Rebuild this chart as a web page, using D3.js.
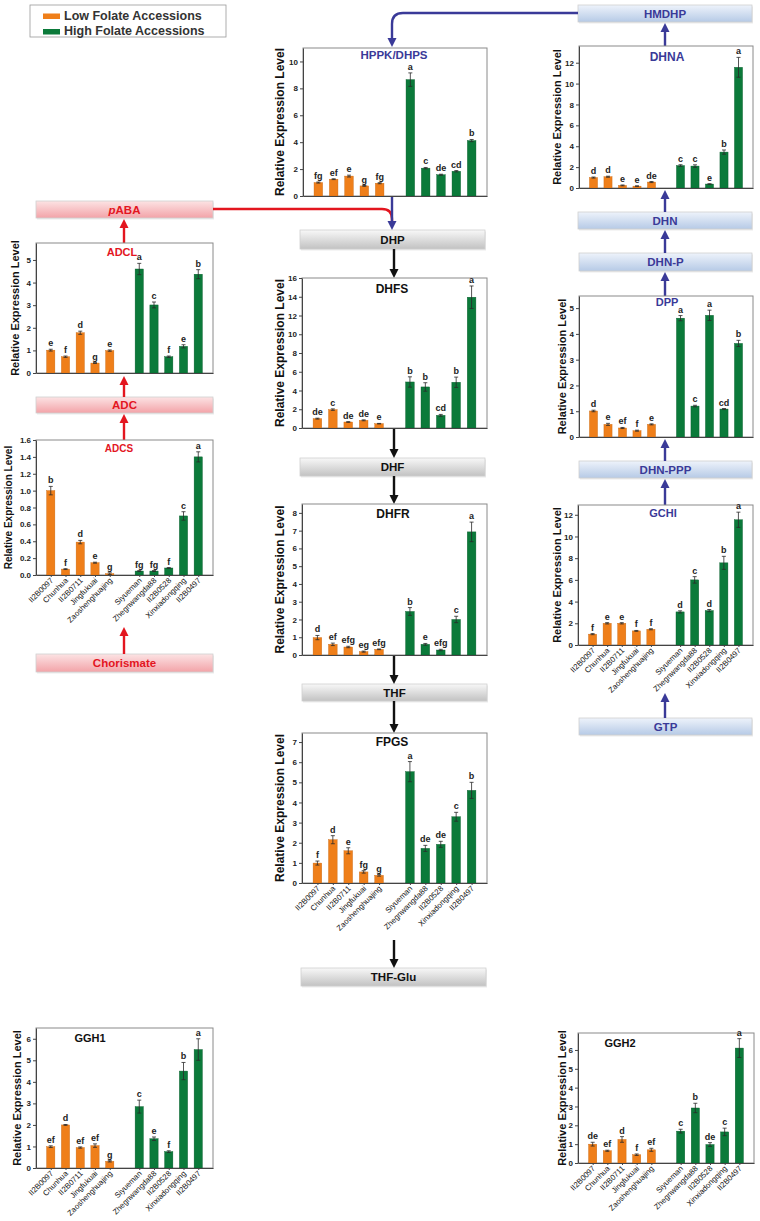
<!DOCTYPE html>
<html><head><meta charset="utf-8">
<script src="https://cdn.jsdelivr.net/npm/d3@7"></script>
<style>
body{margin:0;background:#fff}
svg{display:block}
text{font-family:"Liberation Sans",Arial,Helvetica,sans-serif}
</style>
</head><body>
<svg id="c" width="760" height="1221"></svg>
<script>
// ---------------- DATA ----------------
const categories = ["II2B0097","Chunhua","II2B0711","Jingfukuai","Zaoshenghuajing","Siyueman","Zhegnwangda88","II2B0528","Xinxiadongqing","II2B0497"];
const groupOf = ["Low","Low","Low","Low","Low","High","High","High","High","High"];
const legendLabels = ["Low Folate Accessions","High Folate Accessions"];

const hppkValues  = [1.0, 1.25, 1.48, 0.75, 0.95, 8.65, 2.07, 1.58, 1.84, 4.12];
const hppkErrors  = [0.04, 0.03, 0.07, 0.03, 0.04, 0.5, 0.05, 0.04, 0.05, 0.08];
const hppkLetters = ["fg","ef","e","g","fg","a","c","de","cd","b"];

const dhnaValues  = [1.0, 1.08, 0.25, 0.18, 0.57, 2.15, 2.1, 0.38, 3.44, 11.56];
const dhnaErrors  = [0.05, 0.05, 0.04, 0.03, 0.05, 0.08, 0.12, 0.03, 0.2, 0.95];
const dhnaLetters = ["d","d","e","e","de","c","c","e","b","a"];

const adclValues  = [1.01, 0.72, 1.78, 0.44, 0.99, 4.6, 3.01, 0.72, 1.18, 4.37];
const adclErrors  = [0.04, 0.03, 0.07, 0.02, 0.03, 0.25, 0.13, 0.03, 0.07, 0.2];
const adclLetters = ["e","f","d","g","e","a","c","f","e","b"];

const adcsValues  = [1.0, 0.07, 0.39, 0.146, 0.016, 0.047, 0.047, 0.083, 0.70, 1.40];
const adcsErrors  = [0.05, 0.005, 0.02, 0.006, 0.01, 0.005, 0.005, 0.005, 0.05, 0.06];
const adcsLetters = ["b","f","d","e","g","fg","fg","f","c","a"];

const dhfsValues  = [1.0, 1.96, 0.64, 0.82, 0.46, 4.91, 4.38, 1.35, 4.88, 13.95];
const dhfsErrors  = [0.05, 0.08, 0.04, 0.05, 0.03, 0.55, 0.45, 0.1, 0.55, 1.2];
const dhfsLetters = ["de","c","de","de","e","b","b","cd","b","a"];

const dppValues   = [1.01, 0.49, 0.35, 0.245, 0.49, 4.61, 1.2, 4.72, 1.085, 3.63];
const dppErrors   = [0.03, 0.04, 0.02, 0.02, 0.02, 0.1, 0.03, 0.2, 0.02, 0.12];
const dppLetters  = ["d","e","ef","f","e","a","c","a","cd","b"];

const dhfrValues  = [0.98, 0.6, 0.45, 0.19, 0.32, 2.45, 0.6, 0.28, 2.0, 6.93];
const dhfrErrors  = [0.12, 0.07, 0.04, 0.03, 0.02, 0.22, 0.05, 0.04, 0.18, 0.55];
const dhfrLetters = ["d","ef","efg","eg","efg","b","e","efg","c","a"];

const gchiValues  = [1.0, 2.0, 2.0, 1.3, 1.45, 3.05, 6.0, 3.17, 7.57, 11.54];
const gchiErrors  = [0.05, 0.06, 0.06, 0.04, 0.05, 0.1, 0.3, 0.1, 0.6, 0.7];
const gchiLetters = ["f","e","e","f","f","d","c","d","b","a"];

const fpgsValues  = [0.99, 2.15, 1.6, 0.55, 0.38, 5.53, 1.72, 1.92, 3.29, 4.6];
const fpgsErrors  = [0.1, 0.2, 0.15, 0.06, 0.04, 0.5, 0.15, 0.15, 0.22, 0.4];
const fpgsLetters = ["f","d","e","fg","g","a","de","de","c","b"];

const ggh1Values  = [0.99, 2.0, 0.95, 1.04, 0.31, 2.85, 1.36, 0.76, 4.5, 5.5];
const ggh1Errors  = [0.04, 0.02, 0.03, 0.08, 0.03, 0.3, 0.08, 0.04, 0.4, 0.5];
const ggh1Letters = ["ef","d","ef","ef","g","c","e","f","b","a"];

const ggh2Values  = [1.0, 0.65, 1.25, 0.44, 0.7, 1.69, 2.92, 0.98, 1.65, 6.1];
const ggh2Errors  = [0.1, 0.03, 0.15, 0.04, 0.08, 0.1, 0.25, 0.1, 0.2, 0.5];
const ggh2Letters = ["de","ef","d","f","ef","c","b","de","c","a"];

// ---------------- STYLE / LAYOUT ----------------
const ORANGE = "#ef7f1a", GREEN = "#0b7a3a";
const RED = "#e3161f", BLUE = "#3a3a98", BLACK = "#111";
const svg = d3.select("#c");
const defs = svg.append("defs");
function grad(id, c1, c2){
  const lg = defs.append("linearGradient").attr("id", id).attr("x1",0).attr("y1",0).attr("x2",0).attr("y2",1);
  lg.append("stop").attr("offset","0%").attr("stop-color",c1);
  lg.append("stop").attr("offset","100%").attr("stop-color",c2);
}
grad("gPink", "#fce3e4", "#f3a3a8");
grad("gGray", "#f8f8f8", "#c2c2c2");
grad("gBlue", "#eef3fb", "#b6cae6");

const int = d3.format("d"), one = d3.format(".1f");
const range = (a,b,s)=>d3.range(a,b+s/2,s);

const panels = [
  {title:"HPPK/DHPS", tc:BLUE, v:hppkValues, e:hppkErrors, l:hppkLetters, x0:303,x1:487,y0:48,y1:196, ymax:11, ticks:range(0,10,2), tx:394, ty:59, ts:11.5, ys:12, ydx:23},
  {title:"DHNA", tc:BLUE, v:dhnaValues, e:dhnaErrors, l:dhnaLetters, x0:579,x1:753,y0:46,y1:188, ymax:13.6, ticks:range(0,12,2), tx:667, ty:61, ts:12, ys:11, ydx:22},
  {title:"ADCL", tc:RED, v:adclValues, e:adclErrors, l:adclLetters, x0:36,x1:213,y0:243,y1:373, ymax:5.75, ticks:range(0,5,1), tx:122, ty:256, ts:11, ys:11, ydx:21},
  {title:"ADCS", tc:RED, v:adcsValues, e:adcsErrors, l:adcsLetters, x0:36,x1:213,y0:440,y1:575, ymax:1.6, ticks:range(0,1.6,0.2), fmt:one, tx:119, ty:452, ts:10, ys:10, ydx:28, labels:true},
  {title:"DHFS", tc:BLACK, v:dhfsValues, e:dhfsErrors, l:dhfsLetters, x0:302,x1:487,y0:278,y1:428, ymax:16, ticks:range(0,16,2), tx:392, ty:293, ts:12, ys:12, ydx:22},
  {title:"DPP", tc:BLUE, v:dppValues, e:dppErrors, l:dppLetters, x0:579,x1:753,y0:296,y1:437, ymax:5.47, ticks:range(0,5,1), tx:667, ty:306, ts:11, ys:11, ydx:17},
  {title:"DHFR", tc:BLACK, v:dhfrValues, e:dhfrErrors, l:dhfrLetters, x0:302,x1:487,y0:504,y1:655, ymax:8.5, ticks:range(0,8,1), tx:393, ty:518, ts:12, ys:12, ydx:22},
  {title:"GCHI", tc:BLUE, v:gchiValues, e:gchiErrors, l:gchiLetters, x0:578,x1:753,y0:505,y1:645, ymax:12.9, ticks:range(0,12,2), tx:663, ty:517, ts:11, ys:11, ydx:21, labels:true},
  {title:"FPGS", tc:BLACK, v:fpgsValues, e:fpgsErrors, l:fpgsLetters, x0:302,x1:487,y0:733,y1:883, ymax:7.45, ticks:range(0,7,1), tx:392, ty:746, ts:12, ys:12, ydx:22, labels:true},
  {title:"GGH1", tc:BLACK, v:ggh1Values, e:ggh1Errors, l:ggh1Letters, x0:36,x1:213,y0:1028,y1:1168, ymax:6.5, ticks:range(0,6,1), tx:90, ty:1042, ts:11, ys:11, ydx:19, labels:true},
  {title:"GGH2", tc:BLACK, v:ggh2Values, e:ggh2Errors, l:ggh2Letters, x0:578,x1:754,y0:1033,y1:1163, ymax:6.9, ticks:range(0,6,1), tx:620, ty:1047, ts:11, ys:11, ydx:16, labels:true},
];

const slots = [...categories.slice(0,5), "__gap", ...categories.slice(5)];

function drawPanel(p){
  const g = svg.append("g");
  const x = d3.scalePoint().domain(slots).range([p.x0,p.x1]).padding(1);
  const y = d3.scaleLinear().domain([0,p.ymax]).range([p.y1,p.y0]);
  const bw = x.step()*0.56;
  const data = categories.map((c,i)=>({c, v:p.v[i], e:p.e[i], l:p.l[i], grp:groupOf[i]}));

  g.append("rect").attr("x",p.x0).attr("y",p.y0).attr("width",p.x1-p.x0).attr("height",p.y1-p.y0)
    .attr("fill","none").attr("stroke","#8a8a8a").attr("stroke-width",1);

  g.selectAll("rect.bar").data(data).join("rect").attr("class","bar")
    .attr("x",d=>x(d.c)-bw/2).attr("width",bw)
    .attr("y",d=>y(d.v)).attr("height",d=>y(0)-y(d.v))
    .attr("fill",d=>d.grp==="Low"?ORANGE:GREEN)
    .attr("stroke",d=>d.grp==="Low"?"#c9670f":"#075a2a").attr("stroke-width",0.4);

  const eb = g.selectAll("g.eb").data(data).join("g").attr("class","eb").attr("stroke","#2a2a2a").attr("stroke-width",0.8);
  eb.append("line").attr("x1",d=>x(d.c)).attr("x2",d=>x(d.c)).attr("y1",d=>y(d.v-d.e)).attr("y2",d=>y(d.v+d.e));
  eb.append("line").attr("x1",d=>x(d.c)-2).attr("x2",d=>x(d.c)+2).attr("y1",d=>y(d.v+d.e)).attr("y2",d=>y(d.v+d.e));
  eb.append("line").attr("x1",d=>x(d.c)-2).attr("x2",d=>x(d.c)+2).attr("y1",d=>y(d.v-d.e)).attr("y2",d=>y(d.v-d.e));

  g.selectAll("text.lt").data(data).join("text").attr("class","lt")
    .attr("x",d=>x(d.c)).attr("y",d=>y(d.v+d.e)-3)
    .attr("text-anchor","middle").attr("font-size",9).attr("font-weight","bold").attr("fill","#222")
    .text(d=>d.l);

  const ax = d3.axisLeft(y).tickValues(p.ticks).tickSize(3).tickSizeOuter(0).tickPadding(2).tickFormat(p.fmt||int);
  const ag = g.append("g").attr("transform",`translate(${p.x0},0)`).call(ax);
  ag.select(".domain").attr("stroke","#444");
  ag.selectAll(".tick line").attr("stroke","#444");
  ag.selectAll(".tick text").attr("font-size",8).attr("font-weight","bold").attr("fill","#222")
    .attr("font-family","Liberation Sans, Arial, sans-serif");

  const xa = d3.axisBottom(x).tickValues(p.labels?categories:[]).tickSize(2).tickSizeOuter(0).tickFormat("");
  const xg = g.append("g").attr("transform",`translate(0,${p.y1})`).call(xa);
  xg.select(".domain").attr("stroke","#444");
  xg.selectAll(".tick line").attr("stroke","#444");

  if(p.labels){
    g.selectAll("text.cl").data(data).join("text").attr("class","cl")
      .attr("transform",d=>`translate(${x(d.c)+3},${p.y1+6}) rotate(-45)`)
      .attr("text-anchor","end").attr("font-size",7.8).attr("fill","#111")
      .text(d=>d.c);
  }

  g.append("text").attr("transform",`translate(${p.x0-p.ydx},${(p.y0+p.y1)/2}) rotate(-90)`)
    .attr("text-anchor","middle").attr("dy","0.35em").attr("font-size",p.ys).attr("font-weight","bold").attr("fill","#111")
    .text("Relative Expression Level");

  g.append("text").attr("x",p.tx).attr("y",p.ty).attr("text-anchor","middle")
    .attr("font-size",p.ts).attr("font-weight","bold").attr("fill",p.tc).text(p.title);
}

// ---------------- BOXES ----------------
const boxes = [
  {t:"pABA", italicFirst:true, x:36,y:201,w:177,h:17, fill:"gPink", c:RED},
  {t:"ADC", x:36,y:397,w:177,h:16, fill:"gPink", c:RED},
  {t:"Chorismate", x:36,y:654,w:177,h:18, fill:"gPink", c:RED},
  {t:"DHP", x:300,y:230,w:185,h:19, fill:"gGray", c:BLACK},
  {t:"DHF", x:300,y:458,w:185,h:18, fill:"gGray", c:BLACK},
  {t:"THF", x:302,y:684,w:185,h:17, fill:"gGray", c:BLACK},
  {t:"THF-Glu", x:301,y:968,w:185,h:18, fill:"gGray", c:BLACK},
  {t:"HMDHP", x:578,y:5,w:174,h:17, fill:"gBlue", c:BLUE},
  {t:"DHN", x:578,y:212,w:174,h:17, fill:"gBlue", c:BLUE},
  {t:"DHN-P", x:579,y:253,w:173,h:18, fill:"gBlue", c:BLUE},
  {t:"DHN-PPP", x:579,y:461,w:173,h:17, fill:"gBlue", c:BLUE},
  {t:"GTP", x:579,y:718,w:173,h:17, fill:"gBlue", c:BLUE},
];
boxes.forEach(b=>{
  svg.append("rect").attr("x",b.x+1).attr("y",b.y+1.5).attr("width",b.w).attr("height",b.h).attr("fill","#000").attr("opacity",0.08);
  svg.append("rect").attr("x",b.x).attr("y",b.y).attr("width",b.w).attr("height",b.h)
    .attr("fill",`url(#${b.fill})`).attr("stroke","#d0d0d0").attr("stroke-width",0.8);
  const t = svg.append("text").attr("x",b.x+b.w/2).attr("y",b.y+b.h/2).attr("dy","0.36em")
    .attr("text-anchor","middle").attr("font-size",11.5).attr("font-weight","bold").attr("fill",b.c);
  if(b.italicFirst){
    t.append("tspan").attr("font-style","italic").text(b.t[0]);
    t.append("tspan").text(b.t.slice(1));
  } else t.text(b.t);
});

// ---------------- ARROWS ----------------
function head(xt,yt,dir,color){
  const L=9, W=4.5;
  svg.append("path").attr("d",`M${xt},${yt} L${xt-W},${yt-dir*L} L${xt+W},${yt-dir*L} Z`).attr("fill",color);
}
function varrow(x,yFrom,yTo,color){
  const dir = yTo>yFrom?1:-1;
  svg.append("line").attr("x1",x).attr("x2",x).attr("y1",yFrom).attr("y2",yTo-dir*8)
    .attr("stroke",color).attr("stroke-width",2.4);
  head(x,yTo,dir,color);
}
svg.append("path").attr("d","M213,209 H382 Q392,209 392,219 V224").attr("fill","none").attr("stroke",RED).attr("stroke-width",2.4);
svg.append("path").attr("d","M578,13 H403 Q392,13 392,24 V39").attr("fill","none").attr("stroke",BLUE).attr("stroke-width",2.4);
head(392,47,1,BLUE);
varrow(392,196,230,BLUE);

varrow(394,249,278,BLACK);
varrow(394,428,458,BLACK);
varrow(394,476,504,BLACK);
varrow(394,655,684,BLACK);
varrow(394,701,733,BLACK);
varrow(394,940,968,BLACK);

varrow(665,46,23,BLUE);
varrow(665,212,190,BLUE);
varrow(665,253,230,BLUE);
varrow(665,296,272,BLUE);
varrow(665,461,439,BLUE);
varrow(665,505,479,BLUE);
varrow(665,718,693,BLUE);

varrow(124,243,219,RED);
varrow(124,397,376,RED);
varrow(124,440,414,RED);
varrow(124,654,627,RED);

panels.forEach(drawPanel);

// ---------------- LEGEND ----------------
const lg = svg.append("g");
lg.append("rect").attr("x",30).attr("y",5).attr("width",196).attr("height",32).attr("fill","#fff").attr("stroke","#9a9a9a").attr("stroke-width",0.8);
legendLabels.forEach((t,i)=>{
  lg.append("rect").attr("x",43).attr("y",13.5+i*15.5).attr("width",17).attr("height",5.5).attr("fill",i===0?ORANGE:GREEN);
  lg.append("text").attr("x",64).attr("y",19.5+i*15.5).attr("font-size",12.5).attr("font-weight","bold").attr("fill","#333").text(t);
});
</script>
</body></html>
